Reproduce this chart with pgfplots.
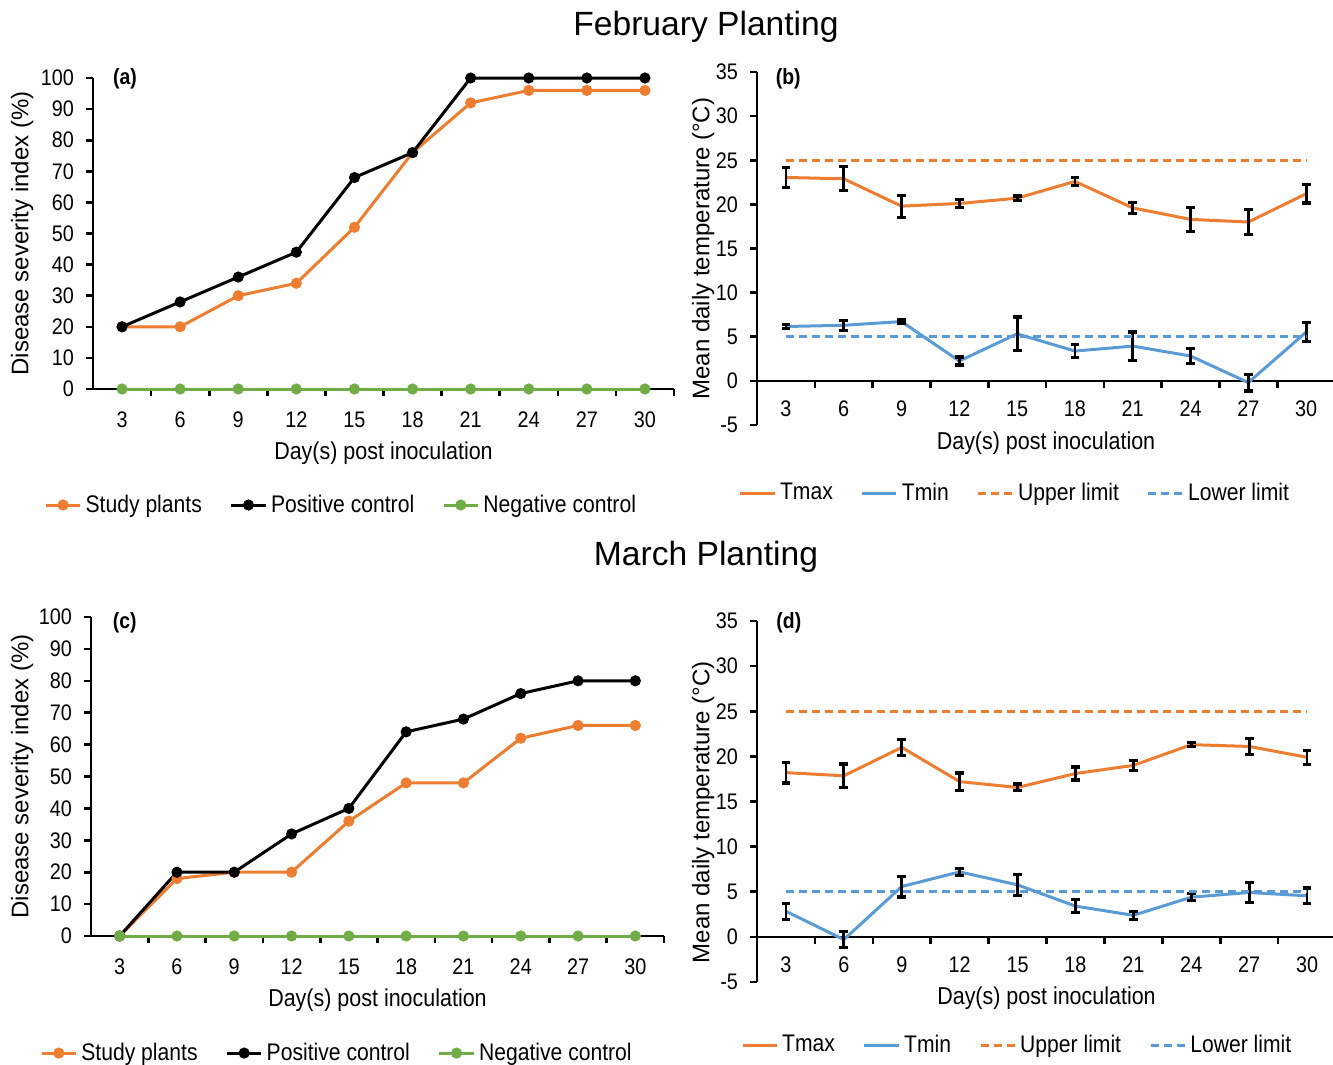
\documentclass[border=0pt]{standalone}
\usepackage{fontspec}
\setmainfont{Liberation Sans}
\newfontfamily\narrow{Liberation Sans}[FakeStretch=0.88]
\usepackage{pgfplots}
\pgfplotsset{compat=1.18}
\definecolor{cOr}{HTML}{ED7D31}
\definecolor{cBl}{HTML}{5B9BD5}
\definecolor{cGr}{HTML}{70AD47}
\newcommand\labfont{\narrow\fontsize{12.2}{14}\selectfont}
\newcommand\ylabfont{\fontsize{12}{14}\selectfont}
\pgfplotsset{
  panel/.style={
    scale only axis,
    clip=false,
    xmin=0.5, xmax=10.5,
    xtick={1,...,10},
    xticklabels={3,6,9,12,15,18,21,24,27,30},
    minor xtick={1.5,2.5,...,10.5},
    tick align=outside,
    major tick length=3.5pt, minor tick length=3.5pt,
    axis y line*=left,
    axis line style={line width=1.3pt},
    every tick/.style={black, line width=1.3pt},
    major x tick style={draw=none},
    tick label style={font=\narrow\fontsize{11.25}{13}\selectfont},
    yticklabel style={xshift=-2.5pt},
    /pgf/number format/assume math mode=true,
    legend style={draw=none, fill=none, legend columns=-1,
      font=\narrow\fontsize{12}{14}\selectfont,
      /tikz/every even column/.append style={column sep=12pt}, anchor=center},
  },
  dsi/.style={
    panel, axis x line*=bottom, ymin=0, ymax=100, ytick={0,10,...,100},
    xticklabel style={yshift=-4.5pt},
    ylabel={Disease severity index (\%)},
    xlabel={Day(s) post inoculation},
  },
  temp/.style={
    panel, axis x line*=middle, ymin=-5, ymax=35, ytick={-5,0,...,35},
    xticklabel style={yshift=-3pt},
    ylabel={Mean daily temperature (\textdegree C)},
    xlabel={Day(s) post inoculation},
  },
  sline/.style={line width=1.5pt, mark=*, mark size=2pt, mark options={solid}},
  tline/.style={line width=1.5pt, mark=none,
    error bars/.cd, y dir=both, y explicit,
    error mark=-,
    error bar style={black, line width=1.4pt},
    error mark options={black, rotate=90, line width=1.6pt, mark size=2.2pt}},
  lim/.style={line width=1.5pt, mark=none, dash pattern=on 4pt off 2.5pt},
}
\begin{document}
\begin{tikzpicture}
\useasboundingbox (0,0) rectangle (666.5pt,-532.5pt);
\node[font=\fontsize{16.8}{19}\selectfont] at (353pt,-13.5pt) {February Planting};
\node[font=\fontsize{16.8}{19}\selectfont] at (353pt,-278.5pt) {March Planting};

% (a)
\begin{axis}[dsi, at={(46.5pt,-194.5pt)}, anchor=south west, width=290.5pt, height=155.5pt,
  every axis y label/.style={at={(axis description cs:-0.122,0.5)}, rotate=90, anchor=center, font=\ylabfont},
  every axis x label/.style={at={(axis description cs:0.5,-0.206)}, anchor=center, font=\labfont},
  legend style={at={(axis description cs:0.429,-0.373)}}]
\addplot[cOr, sline] coordinates {(1,20)(2,20)(3,30)(4,34)(5,52)(6,76)(7,92)(8,96)(9,96)(10,96)};
\addplot[black, sline] coordinates {(1,20)(2,28)(3,36)(4,44)(5,68)(6,76)(7,100)(8,100)(9,100)(10,100)};
\addplot[cGr, sline] coordinates {(1,0)(2,0)(3,0)(4,0)(5,0)(6,0)(7,0)(8,0)(9,0)(10,0)};
\legend{Study plants, Positive control, Negative control}
\node[font=\narrow\bfseries\fontsize{11}{13}\selectfont] at (rel axis cs:0.055,0.997) {(a)};
\end{axis}

% (b)
\begin{axis}[temp, at={(378.5pt,-212.5pt)}, anchor=south west, width=289pt, height=176.5pt,
  every axis y label/.style={at={(axis description cs:-0.093,0.5)}, rotate=90, anchor=center, font=\ylabfont},
  every axis x label/.style={at={(axis description cs:0.5,-0.051)}, anchor=center, font=\labfont},
  legend style={at={(axis description cs:0.448,-0.193)}}]
\addplot[cOr, tline] coordinates {(1,23.05)+-(0,1.15) (2,22.9)+-(0,1.35) (3,19.8)+-(0,1.25) (4,20.1)+-(0,0.45) (5,20.7)+-(0,0.25) (6,22.6)+-(0,0.45) (7,19.6)+-(0,0.65) (8,18.3)+-(0,1.35) (9,18.0)+-(0,1.45) (10,21.2)+-(0,1.05)};
\addplot[cBl, tline] coordinates {(1,6.16)+-(0,0.2) (2,6.3)+-(0,0.55) (3,6.72)+-(0,0.18) (4,2.25)+-(0,0.45) (5,5.33)+-(0,1.9) (6,3.38)+-(0,0.75) (7,3.94)+-(0,1.6) (8,2.82)+-(0,0.85) (9,-0.19)+-(0,0.95) (10,5.52)+-(0,1.1)};
\addplot[cOr, lim] coordinates {(1,25)(10,25)};
\addplot[cBl, lim] coordinates {(1,5)(10,5)};
\legend{Tmax, Tmin, Upper limit, Lower limit}
\node[font=\narrow\bfseries\fontsize{11}{13}\selectfont] at (rel axis cs:0.054,0.98) {(b)};
\end{axis}

% (c)
\begin{axis}[dsi, at={(45.5pt,-468pt)}, anchor=south west, width=286.5pt, height=159.5pt,
  every axis y label/.style={at={(axis description cs:-0.12,0.5)}, rotate=90, anchor=center, font=\ylabfont},
  every axis x label/.style={at={(axis description cs:0.5,-0.2)}, anchor=center, font=\labfont},
  legend style={at={(axis description cs:0.431,-0.367)}}]
\addplot[cOr, sline] coordinates {(1,0)(2,18)(3,20)(4,20)(5,36)(6,48)(7,48)(8,62)(9,66)(10,66)};
\addplot[black, sline] coordinates {(1,0)(2,20)(3,20)(4,32)(5,40)(6,64)(7,68)(8,76)(9,80)(10,80)};
\addplot[cGr, sline] coordinates {(1,0)(2,0)(3,0)(4,0)(5,0)(6,0)(7,0)(8,0)(9,0)(10,0)};
\legend{Study plants, Positive control, Negative control}
\node[font=\narrow\bfseries\fontsize{11}{13}\selectfont] at (rel axis cs:0.059,0.981) {(c)};
\end{axis}

% (d)
\begin{axis}[temp, at={(378.5pt,-491pt)}, anchor=south west, width=289.5pt, height=180.5pt,
  every axis y label/.style={at={(axis description cs:-0.093,0.47)}, rotate=90, anchor=center, font=\ylabfont},
  every axis x label/.style={at={(axis description cs:0.5,-0.044)}, anchor=center, font=\labfont},
  legend style={at={(axis description cs:0.451,-0.175)}}]
\addplot[cOr, tline] coordinates {(1,18.2)+-(0,1.15) (2,17.85)+-(0,1.3) (3,21.0)+-(0,0.9) (4,17.2)+-(0,0.95) (5,16.56)+-(0,0.38) (6,18.1)+-(0,0.72) (7,19.0)+-(0,0.55) (8,21.3)+-(0,0.22) (9,21.1)+-(0,0.85) (10,19.9)+-(0,0.76)};
\addplot[cBl, tline] coordinates {(1,2.83)+-(0,0.87) (2,-0.3)+-(0,0.92) (3,5.58)+-(0,1.15) (4,7.2)+-(0,0.42) (5,5.76)+-(0,1.15) (6,3.41)+-(0,0.75) (7,2.39)+-(0,0.46) (8,4.4)+-(0,0.38) (9,4.92)+-(0,1.1) (10,4.55)+-(0,0.86)};
\addplot[cOr, lim] coordinates {(1,25)(10,25)};
\addplot[cBl, lim] coordinates {(1,5)(10,5)};
\legend{Tmax, Tmin, Upper limit, Lower limit}
\node[font=\narrow\bfseries\fontsize{11}{13}\selectfont] at (rel axis cs:0.055,0.994) {(d)};
\end{axis}
\end{tikzpicture}
\end{document}
